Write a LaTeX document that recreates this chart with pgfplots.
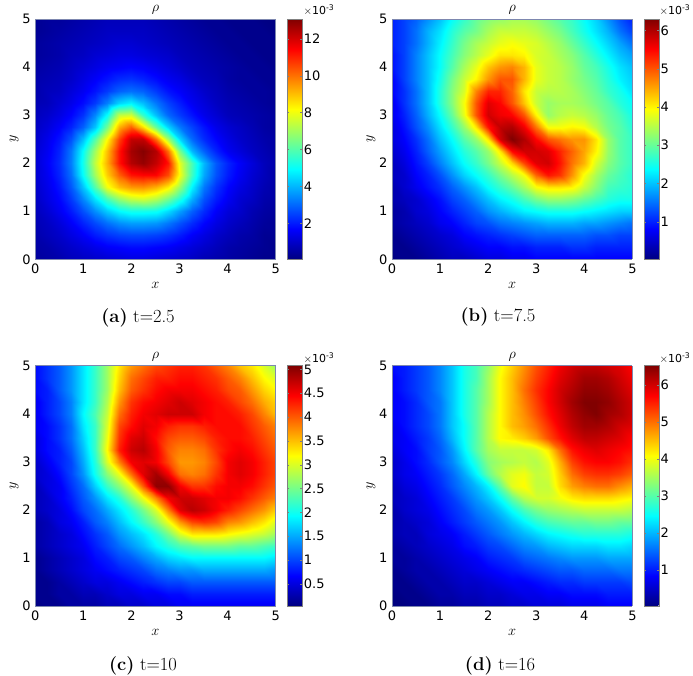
\documentclass[border=0pt]{standalone}
\usepackage{fontspec}
\usepackage{pgfplots}
\usepackage{pgfplotstable}
\pgfplotsset{compat=1.18}
\newfontfamily\dv{DejaVu Sans}
% rho on a 21x21 grid, unit 1e-4, rows from y=5 down to y=0, x from 0 to 5
\pgfplotstableread[row sep=\\,header=false]{
3\\4\\4\\5\\6\\7\\8\\8\\8\\8\\7\\6\\5\\4\\3\\3\\2\\2\\2\\1\\1\\
3\\4\\5\\6\\7\\8\\9\\9\\9\\9\\8\\7\\6\\5\\4\\3\\3\\2\\2\\2\\1\\
4\\5\\6\\7\\8\\9\\10\\11\\11\\10\\9\\8\\7\\6\\5\\4\\3\\3\\2\\2\\2\\
4\\5\\6\\8\\9\\11\\12\\13\\13\\12\\11\\10\\8\\7\\6\\5\\4\\3\\3\\2\\2\\
5\\6\\7\\9\\11\\13\\15\\16\\17\\16\\14\\12\\10\\8\\7\\6\\5\\4\\3\\3\\2\\
6\\7\\8\\10\\13\\16\\19\\22\\23\\21\\18\\15\\13\\10\\8\\7\\5\\4\\4\\3\\3\\
6\\8\\9\\12\\15\\19\\24\\29\\31\\29\\24\\19\\16\\13\\10\\8\\6\\5\\4\\4\\3\\
7\\8\\11\\14\\18\\24\\33\\44\\48\\41\\32\\25\\20\\15\\12\\9\\7\\6\\5\\4\\3\\
8\\10\\13\\17\\23\\34\\50\\74\\76\\56\\41\\30\\24\\19\\14\\11\\8\\7\\6\\5\\4\\
9\\12\\16\\21\\29\\42\\64\\92\\102\\86\\62\\44\\32\\25\\19\\14\\11\\9\\7\\5\\4\\
10\\14\\19\\27\\41\\60\\82\\106\\122\\122\\100\\70\\44\\30\\22\\17\\13\\10\\8\\6\\5\\
11\\15\\21\\32\\50\\70\\90\\112\\126\\130\\124\\100\\64\\40\\29\\21\\15\\12\\9\\7\\5\\
11\\16\\22\\33\\52\\74\\92\\112\\124\\128\\122\\112\\78\\58\\40\\28\\21\\16\\12\\8\\6\\
11\\15\\21\\31\\50\\70\\88\\102\\112\\114\\114\\105\\80\\57\\38\\27\\20\\15\\11\\8\\5\\
10\\14\\19\\28\\42\\60\\80\\90\\95\\96\\92\\84\\68\\48\\32\\23\\17\\13\\10\\7\\5\\
9\\13\\17\\24\\34\\46\\58\\68\\74\\76\\72\\64\\53\\39\\27\\20\\15\\11\\9\\6\\5\\
8\\11\\15\\20\\27\\35\\43\\49\\52\\52\\51\\45\\37\\29\\22\\16\\12\\10\\7\\5\\4\\
7\\9\\12\\16\\21\\26\\31\\35\\37\\37\\36\\32\\27\\22\\17\\13\\10\\8\\6\\4\\3\\
6\\8\\10\\13\\16\\20\\23\\25\\26\\26\\25\\23\\20\\16\\13\\10\\8\\6\\5\\3\\3\\
5\\6\\8\\10\\12\\14\\16\\17\\18\\18\\17\\16\\14\\12\\10\\8\\6\\5\\4\\3\\2\\
4\\5\\6\\8\\9\\10\\11\\12\\13\\13\\12\\11\\10\\9\\7\\6\\5\\4\\3\\2\\2\\
}\dataA
\pgfplotstableread[row sep=\\,header=false]{
10\\12\\14\\17\\20\\24\\27\\30\\32\\33\\34\\34\\33\\31\\29\\27\\24\\21\\17\\13\\10\\
10\\12\\15\\19\\22\\26\\29\\31\\34\\36\\36\\36\\35\\33\\31\\28\\25\\22\\19\\15\\12\\
10\\12\\15\\19\\23\\27\\31\\34\\36\\38\\39\\38\\37\\35\\33\\30\\27\\24\\21\\18\\15\\
9\\12\\16\\20\\24\\28\\32\\35\\38\\41\\41\\40\\37\\36\\34\\32\\29\\26\\23\\20\\18\\
9\\12\\16\\20\\24\\29\\34\\38\\43\\46\\47\\44\\38\\36\\35\\33\\30\\28\\25\\22\\20\\
8\\12\\16\\20\\25\\31\\36\\40\\46\\50\\50\\44\\38\\36\\35\\33\\31\\29\\26\\23\\21\\
8\\11\\15\\20\\26\\32\\37\\47\\53\\53\\49\\41\\36\\35\\35\\34\\32\\30\\27\\25\\22\\
7\\11\\15\\20\\26\\32\\39\\50\\57\\55\\50\\43\\36\\33\\34\\34\\33\\31\\29\\26\\24\\
7\\10\\14\\19\\24\\30\\38\\50\\58\\56\\55\\50\\40\\33\\35\\36\\35\\33\\30\\28\\25\\
6\\9\\13\\17\\22\\27\\33\\41\\54\\59\\60\\56\\48\\39\\39\\40\\39\\35\\31\\29\\26\\
6\\8\\11\\15\\20\\24\\29\\33\\41\\58\\63\\60\\55\\50\\48\\46\\46\\41\\33\\29\\27\\
5\\7\\10\\14\\18\\22\\26\\29\\33\\41\\55\\58\\58\\57\\53\\49\\45\\40\\33\\29\\27\\
4\\6\\9\\12\\16\\20\\24\\27\\31\\36\\42\\51\\57\\58\\54\\48\\44\\37\\32\\29\\27\\
4\\5\\8\\10\\13\\17\\21\\24\\27\\31\\35\\39\\49\\54\\52\\46\\39\\34\\30\\28\\26\\
3\\5\\7\\9\\11\\14\\17\\20\\24\\27\\30\\34\\39\\41\\41\\40\\36\\32\\28\\27\\26\\
3\\4\\5\\7\\9\\12\\14\\17\\20\\23\\25\\28\\31\\33\\33\\32\\30\\28\\26\\25\\25\\
2\\3\\5\\6\\8\\10\\12\\14\\17\\19\\21\\23\\24\\25\\25\\25\\24\\23\\22\\21\\21\\
2\\3\\4\\5\\7\\8\\10\\12\\13\\15\\16\\17\\18\\19\\19\\19\\18\\18\\17\\16\\15\\
1\\2\\3\\4\\5\\6\\8\\9\\10\\11\\12\\13\\14\\14\\14\\14\\14\\13\\13\\12\\12\\
1\\1\\2\\3\\4\\5\\6\\7\\8\\8\\9\\9\\10\\10\\10\\11\\11\\10\\10\\10\\10\\
0\\1\\1\\2\\3\\4\\4\\5\\6\\6\\7\\7\\8\\8\\8\\8\\8\\8\\8\\8\\8\\
}\dataB
\pgfplotstableread[row sep=\\,header=false]{
7\\9\\11\\14\\18\\22\\27\\33\\37\\39\\41\\42\\43\\43\\42\\40\\38\\35\\33\\30\\27\\
7\\9\\11\\14\\18\\22\\27\\34\\39\\41\\43\\43\\44\\44\\43\\42\\40\\38\\35\\32\\30\\
7\\8\\11\\14\\18\\22\\27\\35\\40\\42\\44\\45\\45\\45\\44\\43\\41\\40\\37\\34\\32\\
6\\8\\10\\13\\18\\22\\28\\37\\42\\44\\45\\46\\47\\46\\45\\44\\43\\41\\39\\36\\34\\
6\\8\\10\\13\\19\\23\\29\\39\\43\\45\\46\\47\\47\\47\\45\\44\\44\\43\\41\\38\\35\\
6\\7\\9\\12\\18\\22\\30\\41\\44\\46\\45\\43\\42\\42\\43\\44\\44\\44\\42\\40\\38\\
5\\7\\9\\12\\17\\22\\31\\42\\46\\47\\44\\41\\40\\40\\41\\43\\44\\44\\43\\41\\39\\
5\\7\\8\\11\\16\\22\\32\\43\\47\\48\\45\\40\\38\\38\\39\\42\\44\\45\\44\\42\\40\\
4\\6\\8\\10\\15\\21\\30\\38\\45\\46\\45\\41\\37\\37\\38\\41\\45\\46\\45\\43\\41\\
4\\5\\7\\10\\14\\20\\26\\31\\39\\46\\49\\45\\39\\38\\39\\42\\45\\46\\45\\43\\41\\
3\\5\\6\\9\\12\\17\\22\\26\\31\\40\\50\\50\\45\\42\\42\\44\\45\\45\\44\\42\\40\\
3\\4\\6\\8\\11\\14\\18\\21\\26\\31\\38\\45\\47\\47\\46\\45\\45\\44\\42\\40\\38\\
3\\4\\5\\7\\10\\12\\15\\18\\21\\25\\30\\38\\46\\48\\47\\45\\43\\41\\39\\37\\34\\
2\\3\\5\\6\\8\\11\\13\\16\\19\\22\\26\\31\\37\\41\\42\\41\\38\\37\\35\\33\\30\\
2\\3\\4\\5\\7\\9\\11\\14\\16\\18\\21\\25\\30\\33\\33\\33\\32\\31\\30\\29\\27\\
2\\3\\4\\5\\6\\8\\10\\12\\14\\16\\19\\21\\23\\24\\25\\25\\25\\24\\24\\23\\22\\
1\\2\\3\\4\\5\\7\\8\\10\\11\\13\\15\\17\\18\\19\\19\\19\\19\\19\\19\\19\\18\\
1\\2\\3\\4\\5\\6\\7\\8\\9\\10\\12\\13\\14\\14\\15\\15\\15\\15\\15\\15\\14\\
1\\1\\2\\3\\4\\5\\5\\6\\7\\8\\9\\10\\10\\11\\11\\11\\11\\11\\11\\11\\11\\
1\\1\\2\\2\\3\\3\\4\\5\\5\\6\\6\\7\\7\\8\\8\\8\\8\\8\\8\\8\\8\\
0\\1\\1\\2\\2\\2\\3\\3\\4\\4\\5\\5\\6\\6\\6\\6\\6\\6\\6\\6\\6\\
}\dataC
\pgfplotstableread[row sep=\\,header=false]{
9\\10\\12\\14\\17\\21\\26\\29\\34\\40\\44\\48\\52\\55\\58\\60\\61\\61\\60\\59\\57\\
8\\10\\12\\14\\17\\21\\26\\29\\35\\41\\45\\49\\53\\56\\59\\61\\63\\63\\62\\60\\58\\
8\\10\\12\\14\\17\\21\\26\\30\\35\\41\\45\\50\\54\\57\\60\\62\\64\\64\\63\\61\\59\\
8\\9\\11\\14\\16\\21\\26\\30\\35\\41\\45\\49\\53\\57\\60\\63\\65\\65\\64\\62\\60\\
8\\9\\11\\13\\16\\21\\26\\30\\36\\41\\45\\48\\52\\56\\59\\62\\64\\65\\63\\62\\60\\
7\\9\\11\\13\\16\\21\\25\\30\\36\\41\\45\\47\\50\\54\\58\\61\\63\\63\\62\\60\\59\\
7\\8\\10\\12\\15\\20\\25\\30\\36\\41\\42\\44\\47\\52\\56\\59\\61\\61\\60\\59\\57\\
6\\8\\9\\12\\14\\18\\24\\30\\35\\37\\37\\37\\38\\42\\50\\56\\58\\59\\58\\57\\56\\
5\\7\\9\\11\\14\\17\\22\\27\\33\\35\\36\\37\\36\\39\\46\\53\\56\\57\\57\\56\\54\\
5\\7\\8\\10\\12\\15\\19\\24\\31\\36\\39\\40\\37\\38\\44\\50\\53\\54\\54\\53\\51\\
4\\6\\7\\9\\11\\14\\17\\20\\24\\31\\39\\41\\37\\37\\43\\47\\49\\50\\50\\48\\46\\
4\\5\\6\\8\\10\\12\\15\\18\\21\\25\\31\\36\\38\\38\\40\\42\\43\\43\\43\\42\\41\\
3\\5\\6\\7\\9\\11\\13\\16\\18\\21\\25\\29\\32\\34\\35\\36\\37\\37\\37\\37\\36\\
3\\4\\5\\6\\8\\10\\12\\14\\16\\18\\21\\24\\27\\29\\30\\31\\31\\32\\32\\31\\31\\
3\\4\\4\\6\\7\\8\\10\\12\\14\\16\\18\\20\\22\\24\\25\\26\\27\\27\\27\\27\\26\\
2\\3\\4\\5\\6\\7\\9\\10\\12\\13\\15\\17\\18\\20\\21\\22\\22\\22\\23\\23\\22\\
2\\2\\3\\4\\5\\6\\7\\8\\10\\11\\12\\14\\15\\16\\17\\18\\18\\18\\19\\19\\19\\
1\\2\\3\\3\\4\\5\\6\\7\\8\\9\\10\\11\\12\\13\\14\\14\\15\\15\\15\\16\\16\\
1\\1\\2\\3\\3\\4\\5\\5\\6\\7\\8\\8\\9\\10\\11\\11\\12\\12\\12\\12\\13\\
0\\1\\1\\2\\3\\3\\4\\4\\5\\5\\6\\7\\7\\8\\8\\9\\9\\9\\10\\10\\10\\
0\\0\\1\\1\\2\\2\\3\\3\\4\\4\\5\\5\\6\\6\\6\\7\\7\\7\\8\\8\\8\\
}\dataD
\definecolor{frame}{RGB}{125,135,175}
\pgfplotsset{
  rhomap/.style={
    width=240.4pt, height=240.3pt, scale only axis, anchor=south west,
    xmin=0, xmax=5, ymin=0, ymax=5,
    xtick={0,1,2,3,4,5}, ytick={0,1,2,3,4,5},
    view={0}{90}, axis on top,
    colormap/jet,
    axis line style={draw=frame, line width=0.6pt},
    major tick length=0pt,
    tick pos=left,
    /pgf/number format/assume math mode=true,
    tick label style={font=\dv\fontsize{13}{15}\selectfont},
    xticklabel style={yshift=-1pt},
    yticklabel style={xshift=-1pt},
    title={$\rho$},
    title style={font=\fontsize{14}{16}\selectfont, yshift=-5pt},
    xlabel={$x$}, ylabel={$y$},
    label style={font=\fontsize{15}{17}\selectfont},
    xlabel shift=2pt, ylabel shift=-3pt,
    colorbar,
  },
  cbar/.style={
    colorbar style={
      at={(1.0487,1)}, anchor=north west, width=15pt,
      axis line style={draw=gray, line width=0.5pt},
      major tick length=2pt,
      tick style={draw=gray},
      /pgf/number format/assume math mode=true,
      yticklabel style={font=\dv\fontsize{13}{15}\selectfont, xshift=-2pt},
      #1
    }
  },
}
\newcommand{\rhosurf}[1]{
  \addplot3[surf, shader=interp, mesh/cols=21, mesh/rows=21]
    table[x index=0, y index=0, z index=0,
          x expr={0.25*mod(\coordindex,21)},
          y expr={5-0.25*round((\coordindex-mod(\coordindex,21))/21)},
          z expr={\thisrowno{0}}] {#1};
}
\begin{document}
\begin{tikzpicture}
\path[use as bounding box] (0,0) rectangle (693pt,675pt);
\begin{axis}[rhomap, at={(35.3pt,415.7pt)}, point meta min=0.5, point meta max=130.7,
  cbar={ytick={20,40,60,80,100,120}, yticklabels={2,4,6,8,10,12}}]
  \rhosurf{\dataA}
\end{axis}
\begin{axis}[rhomap, at={(392pt,415.7pt)}, point meta min=0.2, point meta max=63,
  cbar={ytick={10,20,30,40,50,60}, yticklabels={1,2,3,4,5,6}}]
  \rhosurf{\dataB}
\end{axis}
\begin{axis}[rhomap, at={(35.3pt,69pt)}, point meta min=0.3, point meta max=50.8,
  cbar={ytick={5,10,15,20,25,30,35,40,45,50}, yticklabels={0.5,1,1.5,2,2.5,3,3.5,4,4.5,5}}]
  \rhosurf{\dataC}
\end{axis}
\begin{axis}[rhomap, at={(392pt,69pt)}, point meta min=0.3, point meta max=65.1,
  cbar={ytick={10,20,30,40,50,60}, yticklabels={1,2,3,4,5,6}}]
  \rhosurf{\dataD}
\end{axis}
\def\expo{\dv\fontsize{11}{13}\selectfont $\times$10\textsuperscript{-3}}
\node at (319pt,665pt) {\expo};
\node at (675pt,665pt) {\expo};
\node at (319pt,317pt) {\expo};
\node at (675pt,317pt) {\expo};
\node[font=\fontsize{18.5}{22}\selectfont] at (138pt,357.5pt) {\textbf{(a)} t=2.5};
\node[font=\fontsize{18.5}{22}\selectfont] at (498pt,358.5pt) {\textbf{(b)} t=7.5};
\node[font=\fontsize{18.5}{22}\selectfont] at (143pt,9.5pt) {\textbf{(c)} t=10};
\node[font=\fontsize{18.5}{22}\selectfont] at (500pt,9.5pt) {\textbf{(d)} t=16};
\end{tikzpicture}
\end{document}
